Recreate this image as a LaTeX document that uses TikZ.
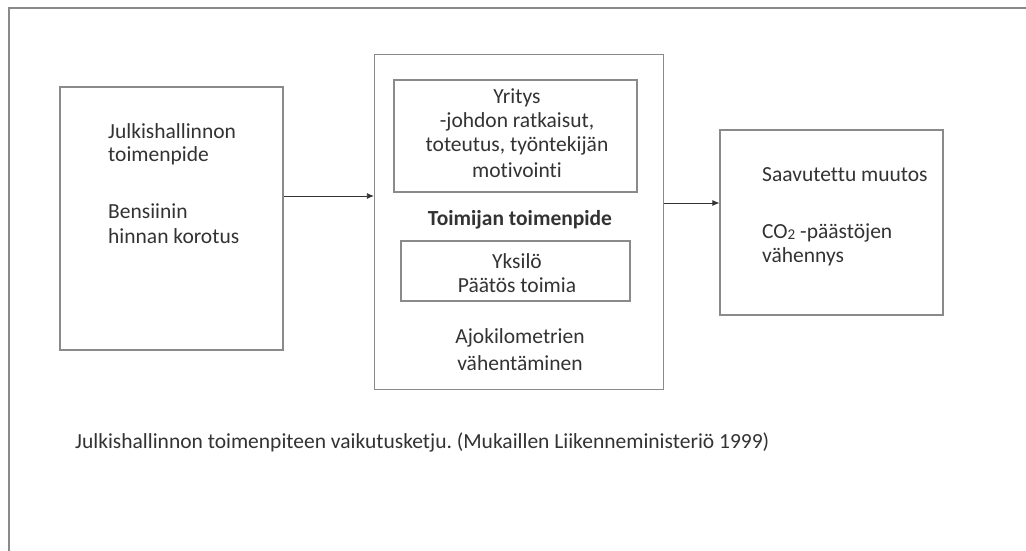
\documentclass[tikz,border=0pt]{standalone}
\usepackage{fontspec}
\setmainfont{Carlito}[Ligatures={NoCommon}]
\usetikzlibrary{arrows.meta}
\definecolor{linegray}{HTML}{8A8A8A}
\definecolor{txt}{HTML}{333333}
\frenchspacing
\begin{document}
\begin{tikzpicture}[x=1pt,y=-1pt,
  box/.style={draw=linegray,line width=1.2pt,rectangle,inner sep=0pt},
  lbl/.style={text=txt,font=\fontsize{21.5}{25}\selectfont,inner sep=0pt},
  arr/.style={draw=black!80,line width=0.8pt,-{Latex[length=7pt,width=6pt]}}]
\useasboundingbox (0,0) rectangle (1026,551);
\fill[white] (0,0) rectangle (1026,551);
\draw[linegray,line width=1.2pt] (9,551) -- (9,8) -- (1026,8);
% boxes
\node[box,minimum width=223pt,minimum height=263pt] (left) at (171.5,218.5) {};
\node[box,minimum width=289pt,minimum height=335pt] (mid) at (519,222) {};
\node[box,minimum width=243pt,minimum height=112pt] (up) at (515.5,136) {};
\node[box,minimum width=229pt,minimum height=60pt] (low) at (515.5,271) {};
\node[box,minimum width=223pt,minimum height=185pt] (right) at (831.5,222.5) {};
% texts left
\node[lbl,anchor=west] (l1) at (108,131) {Julkishallinnon};
\node[lbl,anchor=west] (l2) at (108,156) {toimenpide};
\node[lbl,anchor=west] (l3) at (108,211) {Bensiinin};
\node[lbl,anchor=west] (l4) at (108,236) {hinnan korotus};
% texts middle
\node[lbl] (u1) at (517,98) {Yritys};
\node[lbl] (u2) at (517,122) {-johdon ratkaisut,};
\node[lbl] (u3) at (517,146) {toteutus, työntekijän};
\node[lbl] (u4) at (517,170) {motivointi};
\node[lbl,font=\fontsize{21.5}{25}\selectfont\bfseries] (m1) at (520,220) {Toimijan toimenpide};
\node[lbl] (k1) at (517,261) {Yksilö};
\node[lbl] (k2) at (517,285) {Päätös toimia};
\node[lbl] (a1) at (520,338) {Ajokilometrien};
\node[lbl] (a2) at (520,363) {vähentäminen};
% texts right
\node[lbl,anchor=west] (r1) at (762,175) {Saavutettu muutos};
\node[lbl,anchor=west] (r2) at (762,233) {CO{\fontsize{15}{15}\selectfont\raisebox{-1pt}{2}} -päästöjen};
\node[lbl,anchor=west] (r3) at (762,257) {vähennys};
% caption
\node[lbl,anchor=west] (cap) at (75,442) {Julkishallinnon toimenpiteen vaikutusketju. (Mukaillen Liikenneministeriö 1999)};
% arrows
\coordinate (y1) at (0,196);
\coordinate (y2) at (0,203);
\draw[arr] (left.east |- y1) -- (mid.west |- y1);
\draw[arr] (mid.east |- y2) -- (right.west |- y2);
\end{tikzpicture}
\end{document}
